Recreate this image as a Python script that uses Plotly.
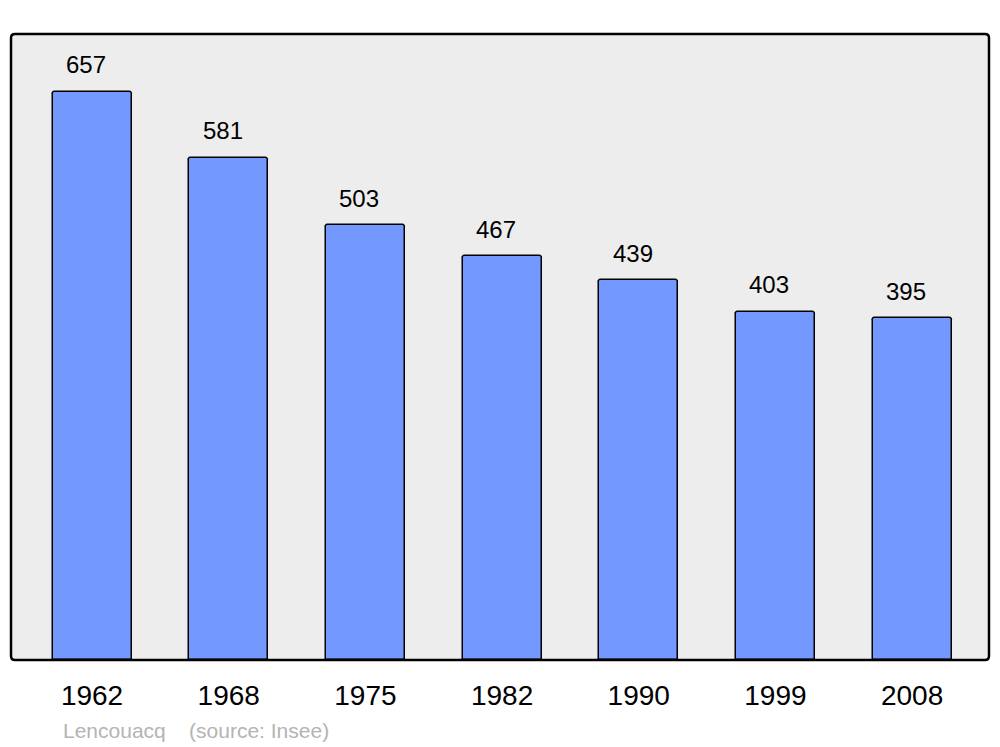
import plotly.graph_objects as go

years = ["1962", "1968", "1975", "1982", "1990", "1999", "2008"]
population = [657, 581, 503, 467, 439, 403, 395]
source_text = "Lencouacq    (source: Insee)"

W, H = 1000, 747
ml, mr, mt, mb = 11, 11, 34, 87

fig = go.Figure()
fig.add_trace(go.Bar(
    x=list(range(len(years))), y=population,
    width=0.578,
    marker=dict(color="#7399ff", line=dict(color="black", width=1.5), cornerradius=3),
    hoverinfo="skip",
))

for i, v in enumerate(population):
    fig.add_annotation(x=i, y=v, text=str(v), showarrow=False, xref="x", yref="y",
                       yanchor="middle", xanchor="center", yshift=27, xshift=-6,
                       font=dict(size=24, color="black", family="Liberation Sans"))

fig.add_annotation(x=(61 - ml) / (W - ml - mr), y=0, xref="paper", yref="paper",
                   yshift=-(730 - 660), yanchor="middle", xanchor="left",
                   text=source_text, showarrow=False,
                   font=dict(size=21, color="#b4b4b4", family="Liberation Sans"))

# rounded plot box
rx = 4 / (W - ml - mr)
ry = 4 / (H - mt - mb)
path = (f"M {rx},0 L {1-rx},0 Q 1,0 1,{ry} L 1,{1-ry} Q 1,1 {1-rx},1 "
        f"L {rx},1 Q 0,1 0,{1-ry} L 0,{ry} Q 0,0 {rx},0 Z")
fig.add_shape(type="path", path=path, xref="paper", yref="paper",
              fillcolor="#ededed", line=dict(width=0), layer="below")
fig.add_shape(type="path", path=path, xref="paper", yref="paper",
              fillcolor="rgba(0,0,0,0)", line=dict(color="black", width=2.5), layer="above")

fig.update_layout(
    width=W, height=H,
    margin=dict(l=ml, r=mr, t=mt, b=mb),
    paper_bgcolor="white", plot_bgcolor="rgba(0,0,0,0)",
    showlegend=False, bargap=0,
    font=dict(family="Liberation Sans"),
)
fig.update_xaxes(range=[-0.593, 6.563], tickmode="array",
                 tickvals=list(range(len(years))), ticktext=years,
                 tickfont=dict(size=28, color="black"), showgrid=False,
                 zeroline=False, showline=False, ticks="", ticklabelstandoff=16)
fig.update_yaxes(range=[0, 724], showticklabels=False, showgrid=False,
                 zeroline=False, showline=False, ticks="")

fig.write_html("out.html", config={"displayModeBar": False},
               post_script="document.body.style.margin='0';document.body.style.overflow='hidden';")
